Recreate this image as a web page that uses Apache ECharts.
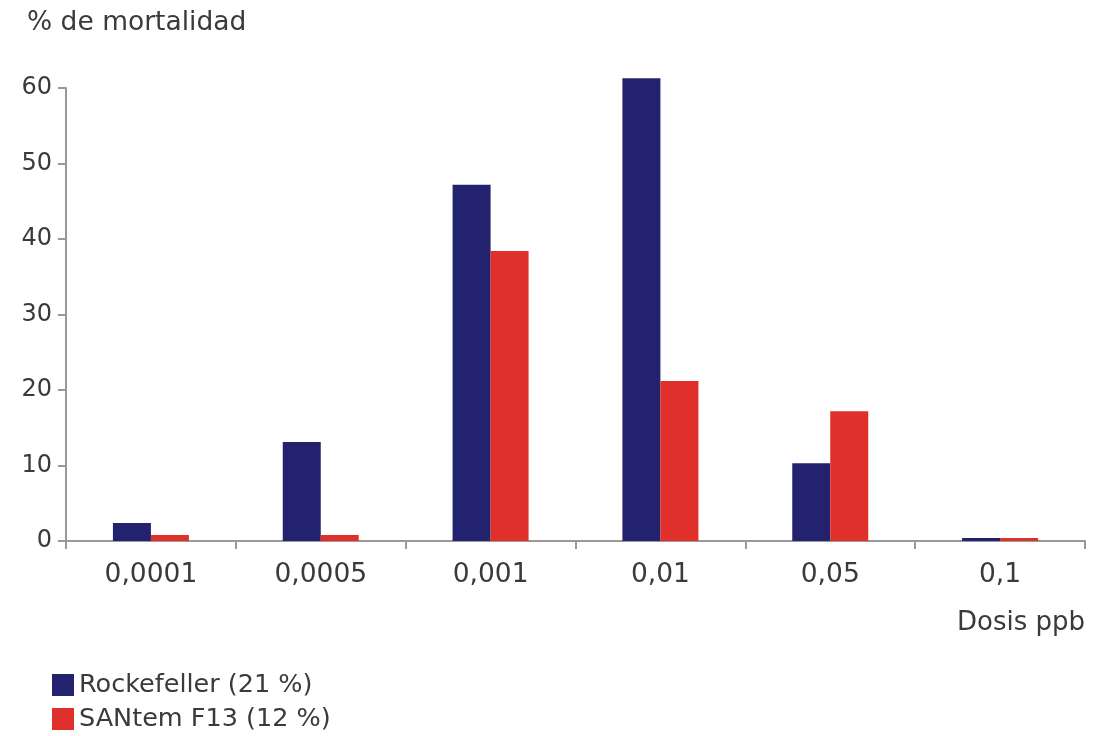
<!DOCTYPE html>
<html><head><meta charset="utf-8">
<script src="https://cdn.jsdelivr.net/npm/echarts@6/dist/echarts.min.js"></script>
<style>html,body{margin:0;padding:0;background:#fff}#c{width:1094px;height:736px}</style>
</head><body><div id="c"></div>
<script>
const categories = ['0,0001','0,0005','0,001','0,01','0,05','0,1'];
const rockefeller = [2.4, 13.1, 47.2, 61.3, 10.3, 0.4];
const santem = [0.8, 0.8, 38.4, 21.2, 17.2, 0.4];
const seriesNames = ['Rockefeller (21 %)', 'SANtem F13 (12 %)'];

const chart = echarts.init(document.getElementById('c'));
const font = 'DejaVu Sans';
chart.setOption({
  animation: false,
  textStyle: {fontFamily: font},
  grid: {left: 66, right: 9, top: 88, bottom: 195, containLabel: false},
  title: {text: '% de mortalidad', left: 22, top: 5,
    textStyle: {fontFamily: font, fontSize: 26.5, fontWeight: 'normal', color: '#3a3a3a'}},
  legend: {orient: 'vertical', left: 52, top: 670, padding: 0, itemGap: 4, itemWidth: 22, itemHeight: 22,
    icon: 'rect', itemStyle: {borderWidth: 0},
    textStyle: {fontFamily: font, fontSize: 25.5, lineHeight: 30, color: '#3a3a3a', padding: [0,0,0,0]},
    data: seriesNames},
  xAxis: {type: 'category', data: categories,
    name: 'Dosis ppb', nameLocation: 'end', nameGap: 0,
    nameTextStyle: {fontFamily: font, fontSize: 26, color: '#3a3a3a', align: 'right', verticalAlign: 'top', padding: [69, 0, 0, 0]},
    axisLine: {lineStyle: {color: '#999', width: 2}},
    axisTick: {show: true, length: 8, inside: false, lineStyle: {color: '#999', width: 2}},
    axisLabel: {fontFamily: font, fontSize: 26.5, color: '#3a3a3a', margin: 21}},
  yAxis: {type: 'value', min: 0, max: 60, interval: 10,
    axisLine: {show: true, lineStyle: {color: '#999', width: 2}},
    axisTick: {show: true, length: 8, lineStyle: {color: '#999', width: 2}},
    splitLine: {show: false},
    axisLabel: {fontFamily: font, fontSize: 24, color: '#3a3a3a', margin: 14}},
  series: [
    {name: seriesNames[0], type: 'bar', data: rockefeller, barWidth: 38, barGap: '0%', clip: false,
     itemStyle: {color: '#22226f'}},
    {name: seriesNames[1], type: 'bar', data: santem, barWidth: 38, barGap: '0%', clip: false,
     itemStyle: {color: '#e0302c'}}
  ]
});
</script></body></html>
